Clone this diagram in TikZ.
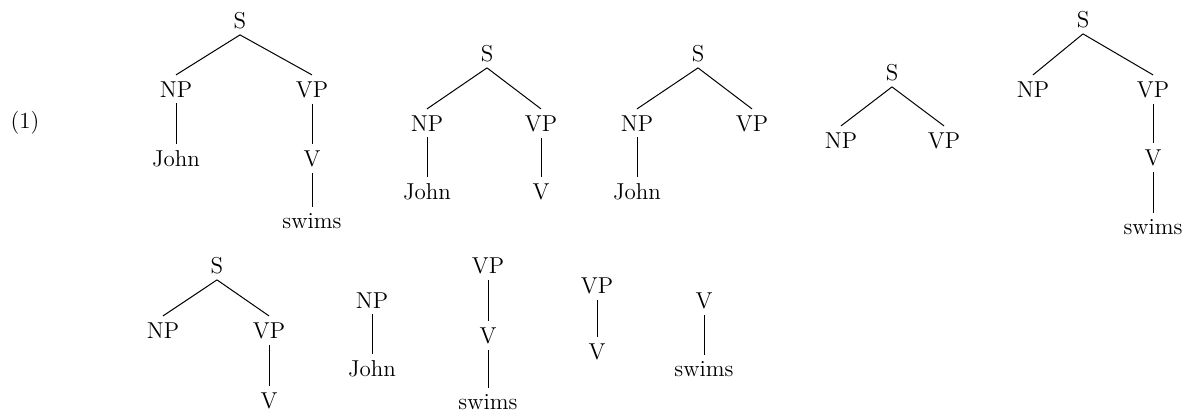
\documentclass[tikz,border=0pt]{standalone}
\usepackage{amsmath, amsfonts, amssymb}
\usepackage{xcolor}
\usepackage{tikz}

\tikzset{
	lbl/.style={anchor=base, inner xsep=1pt, inner ysep=3pt, font=\fontsize{11.5}{13}\selectfont},
	branch/.style={line width=0.5pt}
}

\begin{document}
\begin{tikzpicture}[x=0.5pt, y=-0.5pt]

\useasboundingbox (0,0) rectangle (1186,414);

\node[lbl] (ex) at (25,128) {(1)};

% tree 1
\node[lbl] (t1s) at (240,28) {S};
\node[lbl] (t1np) at (176,97) {NP};
\node[lbl] (t1vp) at (312,97) {VP};
\node[lbl] (t1john) at (176,166) {John};
\node[lbl] (t1v) at (312,166) {V};
\node[lbl] (t1swims) at (312,228) {swims};
\draw[branch] (t1s.south)--(t1np.north);
\draw[branch] (t1s.south)--(t1vp.north);
\draw[branch] (t1np.south)--(t1john.north);
\draw[branch] (t1vp.south)--(t1v.north);
\draw[branch] (t1v.south)--(t1swims.north);

% tree 2
\node[lbl] (t2s) at (487,61) {S};
\node[lbl] (t2np) at (427,131) {NP};
\node[lbl] (t2vp) at (541,131) {VP};
\node[lbl] (t2john) at (427,199) {John};
\node[lbl] (t2v) at (541,199) {V};
\draw[branch] (t2s.south)--(t2np.north);
\draw[branch] (t2s.south)--(t2vp.north);
\draw[branch] (t2np.south)--(t2john.north);
\draw[branch] (t2vp.south)--(t2v.north);

% tree 3
\node[lbl] (t3s) at (698,61) {S};
\node[lbl] (t3np) at (637,131) {NP};
\node[lbl] (t3vp) at (752,131) {VP};
\node[lbl] (t3john) at (637,199) {John};
\draw[branch] (t3s.south)--(t3np.north);
\draw[branch] (t3s.south)--(t3vp.north);
\draw[branch] (t3np.south)--(t3john.north);

% tree 4
\node[lbl] (t4s) at (892,80) {S};
\node[lbl] (t4np) at (841,148) {NP};
\node[lbl] (t4vp) at (944,148) {VP};
\draw[branch] (t4s.south)--(t4np.north);
\draw[branch] (t4s.south)--(t4vp.north);

% tree 5
\node[lbl] (t5s) at (1083,27) {S};
\node[lbl] (t5np) at (1033,97) {NP};
\node[lbl] (t5vp) at (1153,97) {VP};
\node[lbl] (t5v) at (1153,165) {V};
\node[lbl] (t5swims) at (1153,234) {swims};
\draw[branch] (t5s.south)--(t5np.north);
\draw[branch] (t5s.south)--(t5vp.north);
\draw[branch] (t5vp.south)--(t5v.north);
\draw[branch] (t5v.south)--(t5swims.north);

% second row
\node[lbl] (t6s) at (217,273) {S};
\node[lbl] (t6np) at (163,338) {NP};
\node[lbl] (t6vp) at (269,338) {VP};
\node[lbl] (t6v) at (269,408) {V};
\draw[branch] (t6s.south)--(t6np.north);
\draw[branch] (t6s.south)--(t6vp.north);
\draw[branch] (t6vp.south)--(t6v.north);

\node[lbl] (t7np) at (372,308) {NP};
\node[lbl] (t7john) at (372,376) {John};
\draw[branch] (t7np.south)--(t7john.north);

\node[lbl] (t8vp) at (488,273) {VP};
\node[lbl] (t8v) at (488,343) {V};
\node[lbl] (t8swims) at (488,409) {swims};
\draw[branch] (t8vp.south)--(t8v.north);
\draw[branch] (t8v.south)--(t8swims.north);

\node[lbl] (t9vp) at (597,293) {VP};
\node[lbl] (t9v) at (597,359) {V};
\draw[branch] (t9vp.south)--(t9v.north);

\node[lbl] (t10v) at (704,308) {V};
\node[lbl] (t10swims) at (704,376) {swims};
\draw[branch] (t10v.south)--(t10swims.north);

\end{tikzpicture}
\end{document}
